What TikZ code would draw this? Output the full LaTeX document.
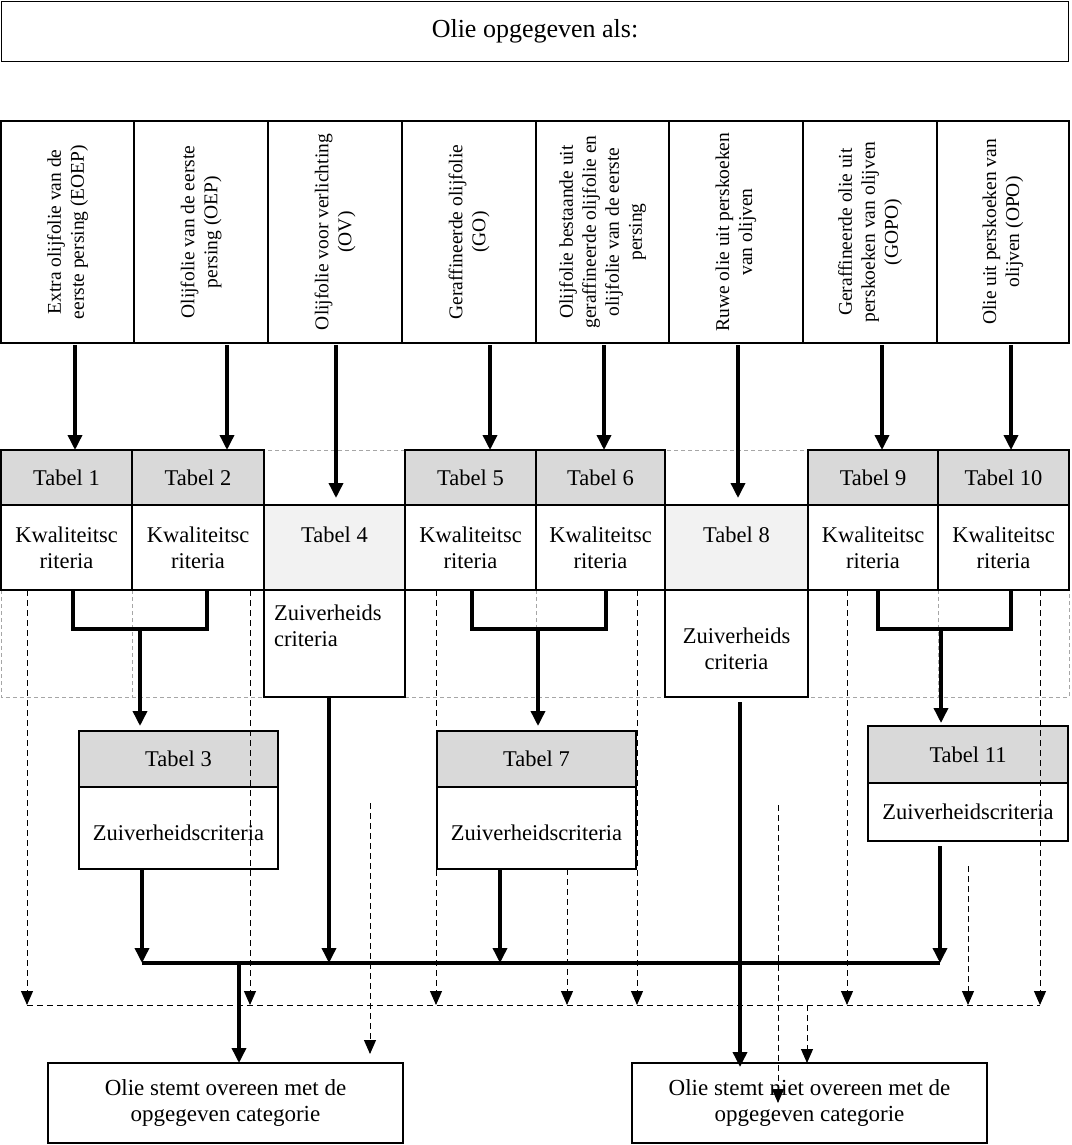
\documentclass[tikz,border=0pt]{standalone}
\usepackage{fontspec}
\setmainfont{Liberation Serif}
\usetikzlibrary{arrows.meta}
\definecolor{hdrgray}{HTML}{D9D9D9}
\definecolor{cellgray}{HTML}{F2F2F2}
\definecolor{dashgray}{HTML}{A6A6A6}
\newcommand\tbfont{\fontsize{22.5}{26}\selectfont}
\newcommand\rotfont{\fontsize{19.5}{23}\selectfont}
\newcommand\ttlfont{\fontsize{26}{30}\selectfont}
\newcommand\btfont{\fontsize{23}{26}\selectfont}
\begin{document}
\begin{tikzpicture}[x=1pt,y=-1pt,
  box/.style={draw,line width=1.2pt,inner sep=0pt,outer sep=0pt,align=center,font=\tbfont},
  hdr/.style={box,fill=hdrgray},
  body/.style={box,fill=white},
  rottext/.style={rotate=90,align=center,font=\rotfont,inner sep=0pt},
  thk/.style={line width=3.5pt},
  thkarrow/.style={line width=3.5pt,-{Triangle[length=15pt,width=14pt]}},
  dsh/.style={line width=1pt,dash pattern=on 6pt off 4pt},
  dsharrow/.style={dsh,-{Triangle[length=14pt,width=12pt]}},
  gdash/.style={draw=dashgray,line width=0.8pt,dash pattern=on 4pt off 3pt}
]
\useasboundingbox (0,0) rectangle (1071,1145);
\fill[white] (0,0) rectangle (1071,1145);

% gray dashed table outline
\draw[gdash] (1,450) rectangle (1069,697);
\draw[gdash] (132,590) -- (132,697);
\draw[gdash] (536,590) -- (536,697);
\draw[gdash] (938,590) -- (938,697);

% title
\node[box,line width=1.8pt,minimum width=1067pt,minimum height=60pt,font=\ttlfont] (title) at (535,31.5) {Olie opgegeven als:};

% top category boxes
\node[box,line width=1.4pt,minimum width=133pt,minimum height=222pt] (c1) at (67.5,232) {};
\node[box,line width=1.4pt,minimum width=134pt,minimum height=222pt] (c2) at (201,232) {};
\node[box,line width=1.4pt,minimum width=134pt,minimum height=222pt] (c3) at (335,232) {};
\node[box,line width=1.4pt,minimum width=134pt,minimum height=222pt] (c4) at (469,232) {};
\node[box,line width=1.4pt,minimum width=133pt,minimum height=222pt] (c5) at (602.5,232) {};
\node[box,line width=1.4pt,minimum width=134pt,minimum height=222pt] (c6) at (736,232) {};
\node[box,line width=1.4pt,minimum width=134pt,minimum height=222pt] (c7) at (870,232) {};
\node[box,line width=1.4pt,minimum width=132pt,minimum height=222pt] (c8) at (1003,232) {};
\node[rottext] (c1t) at (c1.center) {Extra olijfolie van de\\eerste persing (EOEP)};
\node[rottext] (c2t) at (c2.center) {Olijfolie van de eerste\\persing (OEP)};
\node[rottext] (c3t) at (c3.center) {Olijfolie voor verlichting\\(OV)};
\node[rottext] (c4t) at (c4.center) {Geraffineerde olijfolie\\(GO)};
\node[rottext] (c5t) at (c5.center) {Olijfolie bestaande uit\\geraffineerde olijfolie en\\olijfolie van de eerste\\persing};
\node[rottext] (c6t) at (c6.center) {Ruwe olie uit perskoeken\\van olijven};
\node[rottext] (c7t) at (c7.center) {Geraffineerde olie uit\\perskoeken van olijven\\(GOPO)};
\node[rottext] (c8t) at (c8.center) {Olie uit perskoeken van\\olijven (OPO)};

% table row
\node[hdr,minimum width=131pt,minimum height=55pt] (t1h) at (66.5,477.5) {Tabel 1};
\node[body,minimum width=131pt,minimum height=85pt] (t1b) at (66.5,547.5) {Kwaliteitsc\\riteria};
\node[hdr,minimum width=132pt,minimum height=55pt] (t2h) at (198,477.5) {Tabel 2};
\node[body,minimum width=132pt,minimum height=85pt] (t2b) at (198,547.5) {Kwaliteitsc\\riteria};
\node[box,fill=cellgray,minimum width=141pt,minimum height=85pt] (t4b) at (334.5,547.5) {Tabel 4\\ \mbox{}};
\node[body,minimum width=141pt,minimum height=107pt] (t4z) at (334.5,643.5) {};
\node[font=\tbfont,align=left,anchor=west,inner sep=0pt] (t4zt) at (274,626) {Zuiverheids\\criteria};
\node[hdr,minimum width=131pt,minimum height=55pt] (t5h) at (470.5,477.5) {Tabel 5};
\node[body,minimum width=131pt,minimum height=85pt] (t5b) at (470.5,547.5) {Kwaliteitsc\\riteria};
\node[hdr,minimum width=129pt,minimum height=55pt] (t6h) at (600.5,477.5) {Tabel 6};
\node[body,minimum width=129pt,minimum height=85pt] (t6b) at (600.5,547.5) {Kwaliteitsc\\riteria};
\node[box,fill=cellgray,minimum width=143pt,minimum height=85pt] (t8b) at (736.5,547.5) {Tabel 8\\ \mbox{}};
\node[body,minimum width=143pt,minimum height=107pt] (t8z) at (736.5,643.5) {\mbox{}\\Zuiverheids\\criteria};
\node[hdr,minimum width=130pt,minimum height=55pt] (t9h) at (873,477.5) {Tabel 9};
\node[body,minimum width=130pt,minimum height=85pt] (t9b) at (873,547.5) {Kwaliteitsc\\riteria};
\node[hdr,minimum width=131pt,minimum height=55pt] (t10h) at (1003.5,477.5) {Tabel 10};
\node[body,minimum width=131pt,minimum height=85pt] (t10b) at (1003.5,547.5) {Kwaliteitsc\\riteria};

% second-level tables
\node[hdr,minimum width=199pt,minimum height=56pt] (t3h) at (178.5,759) {Tabel 3};
\node[body,minimum width=199pt,minimum height=82pt] (t3b) at (178.5,828) {\mbox{}\\Zuiverheidscriteria};
\node[hdr,minimum width=199pt,minimum height=56pt] (t7h) at (536.5,759) {Tabel 7};
\node[body,minimum width=199pt,minimum height=82pt] (t7b) at (536.5,828) {\mbox{}\\Zuiverheidscriteria};
\node[hdr,minimum width=200pt,minimum height=57pt] (t11h) at (968,754.5) {Tabel 11};
\node[body,minimum width=200pt,minimum height=58pt] (t11b) at (968,812) {Zuiverheidscriteria};

% result boxes
\node[box,minimum width=355pt,minimum height=80pt,font=\btfont] (ok) at (225.5,1103) {Olie stemt overeen met de\\opgegeven categorie};
\node[box,minimum width=355pt,minimum height=80pt,font=\btfont] (niet) at (809.5,1103) {Olie stemt niet overeen met de\\opgegeven categorie};

% x positions of the top arrows
\coordinate (a1) at (75,0);
\coordinate (a2) at (227,0);
\coordinate (a3) at (336,0);
\coordinate (a4) at (490,0);
\coordinate (a5) at (604,0);
\coordinate (a6) at (738,0);
\coordinate (a7) at (882,0);
\coordinate (a8) at (1011,0);
\draw[thkarrow,shorten <=2pt] (c1.south -| a1) -- (t1h.north -| a1);
\draw[thkarrow,shorten <=2pt] (c2.south -| a2) -- (t2h.north -| a2);
\draw[thkarrow,shorten <=2pt,shorten >=7pt] (c3.south -| a3) -- (t4b.north -| a3);
\draw[thkarrow,shorten <=2pt] (c4.south -| a4) -- (t5h.north -| a4);
\draw[thkarrow,shorten <=2pt] (c5.south -| a5) -- (t6h.north -| a5);
\draw[thkarrow,shorten <=2pt,shorten >=7pt] (c6.south -| a6) -- (t8b.north -| a6);
\draw[thkarrow,shorten <=2pt] (c7.south -| a7) -- (t9h.north -| a7);
\draw[thkarrow,shorten <=2pt] (c8.south -| a8) -- (t10h.north -| a8);

% brackets
\coordinate (k1l) at (73,629);  \coordinate (k1r) at (207,629);  \coordinate (k1) at (140,629);
\coordinate (k2l) at (472,629); \coordinate (k2r) at (606,629);  \coordinate (k2) at (538,629);
\coordinate (k3l) at (878,629); \coordinate (k3r) at (1011,629); \coordinate (k3) at (941,629);
\draw[thk] (t1b.south -| k1l) -- (k1l) -- (k1r) -- (t2b.south -| k1r);
\draw[thk] (t5b.south -| k2l) -- (k2l) -- (k2r) -- (t6b.south -| k2r);
\draw[thk] (t9b.south -| k3l) -- (k3l) -- (k3r) -- (t10b.south -| k3r);
\draw[thkarrow,shorten >=5pt] (k1) -- (t3h.north -| k1);
\draw[thkarrow,shorten >=5pt] (k2) -- (t7h.north -| k2);
\draw[thkarrow,shorten >=3pt] (k3) -- (t11h.north -| k3);

% collector line
\coordinate (hL) at (142,963);
\coordinate (h4) at (329,963);
\coordinate (h7) at (500,963);
\coordinate (hR) at (940,963);
\coordinate (hO) at (239,963);
\coordinate (n8) at (740,0);
\draw[thk] (hL) -- (hR);
\draw[thkarrow] (t3b.south -| hL) -- (hL);
\draw[thkarrow] (t4z.south -| h4) -- (h4);
\draw[thkarrow] (t7b.south -| h7) -- (h7);
\draw[thkarrow,shorten <=5pt] (t11b.south -| hR) -- (hR);
\draw[thkarrow] (hO) -- (ok.north -| hO);
\draw[thkarrow,shorten <=5pt,shorten >=-4pt] (t8z.south -| n8) -- (niet.north -| n8);

% dashed lines
\coordinate (dL) at (27,1005);
\coordinate (d2) at (250,1005);
\coordinate (d4) at (436,1005);
\coordinate (d5) at (567,1005);
\coordinate (d6) at (637,1005);
\coordinate (d8) at (807,1005);
\coordinate (d9) at (847,1005);
\coordinate (d10s) at (968,866);
\coordinate (d10) at (968,1005);
\coordinate (dR) at (1040,1005);
\coordinate (d3s) at (370,803);
\coordinate (d7s) at (778,805);
\coordinate (d7e) at (778,1103);
\draw[dsh] (dL) -- (dR);
\draw[dsharrow] (t1b.south -| dL) -- (dL);
\draw[dsharrow] (t2b.south -| d2) -- (d2);
\draw[dsharrow] (t5b.south -| d4) -- (d4);
\draw[dsharrow] (t7b.south -| d5) -- (d5);
\draw[dsharrow] (t6b.south -| d6) -- (d6);
\draw[dsharrow] (t9b.south -| d9) -- (d9);
\draw[dsharrow] (d10s) -- (d10);
\draw[dsharrow] (t10b.south -| dR) -- (dR);
\draw[dsharrow,shorten >=9pt] (d3s) -- (ok.north -| d3s);
\draw[dsharrow] (d7s) -- (d7e);
\draw[dsharrow] (d8) -- (niet.north -| d8);
\end{tikzpicture}
\end{document}
